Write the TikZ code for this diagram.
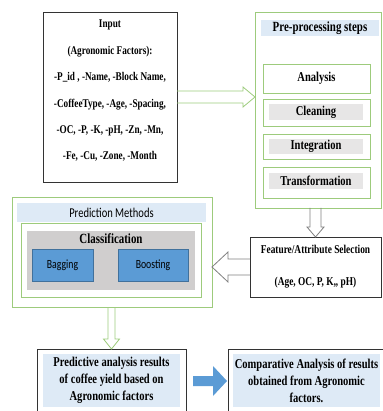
\documentclass[tikz,border=0pt]{standalone}
\usepackage{fontspec}
\setmainfont{Liberation Serif}[FakeStretch=0.78]
\newfontfamily\calibri{Carlito}[FakeStretch=0.78]
\usetikzlibrary{arrows.meta, positioning, calc}

\definecolor{lgreen}{HTML}{9DCB7C}
\definecolor{lblue}{HTML}{DEEAF6}
\definecolor{lgray}{HTML}{E7E6E6}
\definecolor{mgray}{HTML}{D0CECE}
\definecolor{bfill}{HTML}{5B9BD5}
\definecolor{bline}{HTML}{41719C}
\definecolor{agray}{HTML}{7F7F7F}

\begin{document}
\begin{tikzpicture}[
    x=1pt, y=-1pt,
    box/.style={draw, inner sep=0pt, outer sep=0pt, text centered},
    gbox/.style={box, draw=lgreen, line width=0.8pt},
    kbox/.style={box, draw=black!80, line width=0.8pt},
    band/.style={box, draw=none, fill=lblue},
    bar/.style={box, draw=none, fill=lgray, font=\bfseries\fontsize{13.5}{14}\selectfont},
    algo/.style={box, draw=bline, fill=bfill, font=\calibri\fontsize{12.5}{14}\selectfont},
    garrow/.style={draw=lgreen, line width=0.8pt, line join=miter},
    karrow/.style={draw=agray, line width=0.8pt, line join=miter}
  ]
  \useasboundingbox (0,0) rectangle (382,411);

  % input block
  \node[kbox, minimum width=134pt, minimum height=170pt] (input) at (110,97) {};
  \node[align=center, font=\bfseries\fontsize{11.8}{26.4}\selectfont] (inputtext) at (110,91)
    {Input\\(Agronomic Factors):\\-P\_id , -Name, -Block Name,\\
     -CoffeeType, -Age, -Spacing,\\-OC, -P, -K, -pH, -Zn, -Mn,\\-Fe, -Cu, -Zone, -Month};

  % pre-processing block
  \node[gbox, minimum width=126pt, minimum height=196pt] (pre) at (318,110) {};
  \node[band, minimum width=118pt, minimum height=16pt,
        font=\bfseries\fontsize{14}{14}\selectfont] (pretitle) at (320,28) {Pre-processing steps};
  \node[gbox, minimum width=107pt, minimum height=29pt,
        font=\bfseries\fontsize{13.5}{14}\selectfont] (analysis) at (316.5,78.5) {Analysis};
  \node[gbox, minimum width=107pt, minimum height=27pt] (cleaning) at (316.5,112.5) {};
  \node[bar, minimum width=94pt, minimum height=16pt] (cleanbar) at (316,112) {Cleaning};
  \node[gbox, minimum width=107pt, minimum height=25pt] (integration) at (316.5,146.5) {};
  \node[bar, minimum width=94pt, minimum height=15pt] (integbar) at (316,146.5) {Integration};
  \node[gbox, minimum width=107pt, minimum height=31pt] (transform) at (316.5,182.5) {};
  \node[bar, minimum width=94pt, minimum height=16pt] (transbar) at (316,181) {Transformation};

  % feature selection
  \node[kbox, minimum width=131pt, minimum height=60pt, align=center,
        font=\bfseries\fontsize{12}{32}\selectfont] (feature) at (315.5,267)
    {Feature/Attribute Selection\\(Age, OC, P, K,, pH)};

  % prediction methods
  \node[gbox, minimum width=200pt, minimum height=110pt] (pred) at (112,252) {};
  \node[band, minimum width=189pt, minimum height=19pt,
        font=\calibri\fontsize{13.5}{14}\selectfont] (predtitle) at (111.5,212.5) {Prediction Methods};
  \node[gbox, minimum width=180pt, minimum height=74pt] (predinner) at (111,260) {};
  \node[box, draw=none, fill=mgray, minimum width=168pt, minimum height=59pt] (classif) at (111,260.5) {};
  \node[font=\bfseries\fontsize{14}{14}\selectfont, inner sep=0pt] (classtext) at (111,239) {Classification};
  \node[algo, minimum width=61pt, minimum height=32pt] (bagging) at (62.5,265) {Bagging};
  \node[algo, minimum width=70pt, minimum height=32pt] (boosting) at (153,265) {Boosting};

  % results
  \node[kbox, minimum width=149pt, minimum height=64pt] (result) at (111.5,381) {};
  \node[band, minimum width=137pt, minimum height=53pt, align=center,
        font=\bfseries\fontsize{13.5}{17}\selectfont] (resulttext) at (111.5,380.5)
    {Predictive analysis results\\of coffee yield based on\\Agronomic factors};
  \node[kbox, minimum width=156pt, minimum height=64pt] (compare) at (306,381) {};
  \node[band, minimum width=147pt, minimum height=53pt, align=center,
        font=\bfseries\fontsize{13.5}{17}\selectfont] (comparetext) at (306.5,380.5)
    {Comparative Analysis of results\\obtained from Agronomic\\factors.};

  % block arrows
  \draw[garrow] (input.east) ++(0,-6) -- ($(pre.west|-input.east)+(-12,-6)$) -- ++(0,-4)
    -- (pre.west|-input.east) -- ($(pre.west|-input.east)+(-12,10)$) -- ++(0,-4)
    -- ($(input.east)+(0,6)$);
  \draw[karrow] (feature.north|-pre.south) ++(-5.5,0) -- ($(feature.north)+(-5.5,-10)$) -- ++(-3,0)
    -- (feature.north) -- ($(feature.north)+(8.5,-10)$) -- ++(-3,0)
    -- ($(feature.north|-pre.south)+(5.5,0)$);
  \draw[karrow] (feature.west) ++(0,-8) -- ($(pred.east|-feature.west)+(16,-8)$) -- ++(0,-7)
    -- (pred.east|-feature.west) -- ($(pred.east|-feature.west)+(16,15)$) -- ++(0,-7)
    -- ($(feature.west)+(0,8)$);
  \draw[garrow] (result.north|-pred.south) ++(-3.5,0) -- ($(result.north)+(-3.5,-10)$) -- ++(-4.5,0)
    -- (result.north) -- ($(result.north)+(8,-10)$) -- ++(-4.5,0)
    -- ($(result.north|-pred.south)+(3.5,0)$);
  \fill[bfill] ($(result.east)+(7,-5)$) -- ($(compare.west)+(-15,-5)$) -- ++(0,-10)
    -- ($(compare.west)+(-1,0)$) -- ($(compare.west)+(-15,15)$) -- ++(0,-10)
    -- ($(result.east)+(7,5)$) -- cycle;
\end{tikzpicture}
\end{document}
